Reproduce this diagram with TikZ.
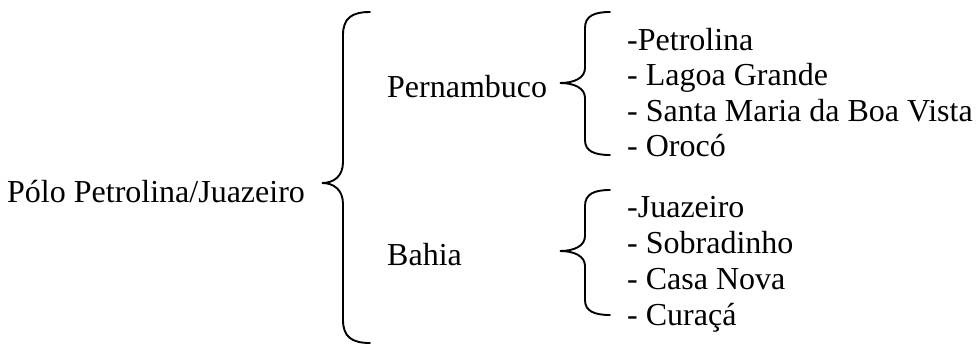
\documentclass[tikz,border=0pt]{standalone}
\usepackage{fontspec}
\setmainfont{Liberation Serif}
\begin{document}
\begin{tikzpicture}[x=1pt,y=-1pt,
  lbl/.style={anchor=base west,inner sep=0pt,font=\fontsize{32}{36}\selectfont},
  brace/.style={draw=black,line width=1.9pt,line cap=round}]
\useasboundingbox (0,0) rectangle (979,351);
% texts
\node[lbl] (polo) at (7,202) {Pólo Petrolina/Juazeiro};
\node[lbl] (pe) at (387,97) {Pernambuco};
\node[lbl] (ba) at (387,265) {Bahia};
\node[lbl] (p1) at (627,50) {-Petrolina};
\node[lbl] (p2) at (627,85.5) {- Lagoa Grande};
\node[lbl] (p3) at (627,121) {- Santa Maria da Boa Vista};
\node[lbl] (p4) at (627,156.5) {- Orocó};
\node[lbl] (b1) at (627,217) {-Juazeiro};
\node[lbl] (b2) at (627,253) {- Sobradinho};
\node[lbl] (b3) at (627,289) {- Casa Nova};
\node[lbl] (b4) at (627,325) {- Curaçá};
% big brace
\path[brace] (370,12) .. controls (352,12) and (343,18) .. (343,35)
  -- (343,162) .. controls (343,176) and (334,183) .. (322,183)
  .. controls (334,183) and (343,190) .. (343,204)
  -- (343,320) .. controls (343,337) and (352,343) .. (370,343);
% small brace 1
\path[brace] (610,12) .. controls (594,12) and (585,16) .. (585,28)
  -- (585,68) .. controls (585,78) and (574,83) .. (560,83)
  .. controls (574,83) and (585,88) .. (585,98)
  -- (585,140) .. controls (585,151) and (594,155) .. (610,155);
% small brace 2
\path[brace] (610,190) .. controls (594,190) and (585,194) .. (585,206)
  -- (585,236) .. controls (585,246) and (574,251) .. (560,251)
  .. controls (574,251) and (585,256) .. (585,266)
  -- (585,300) .. controls (585,311) and (594,315) .. (610,315);
\end{tikzpicture}
\end{document}
